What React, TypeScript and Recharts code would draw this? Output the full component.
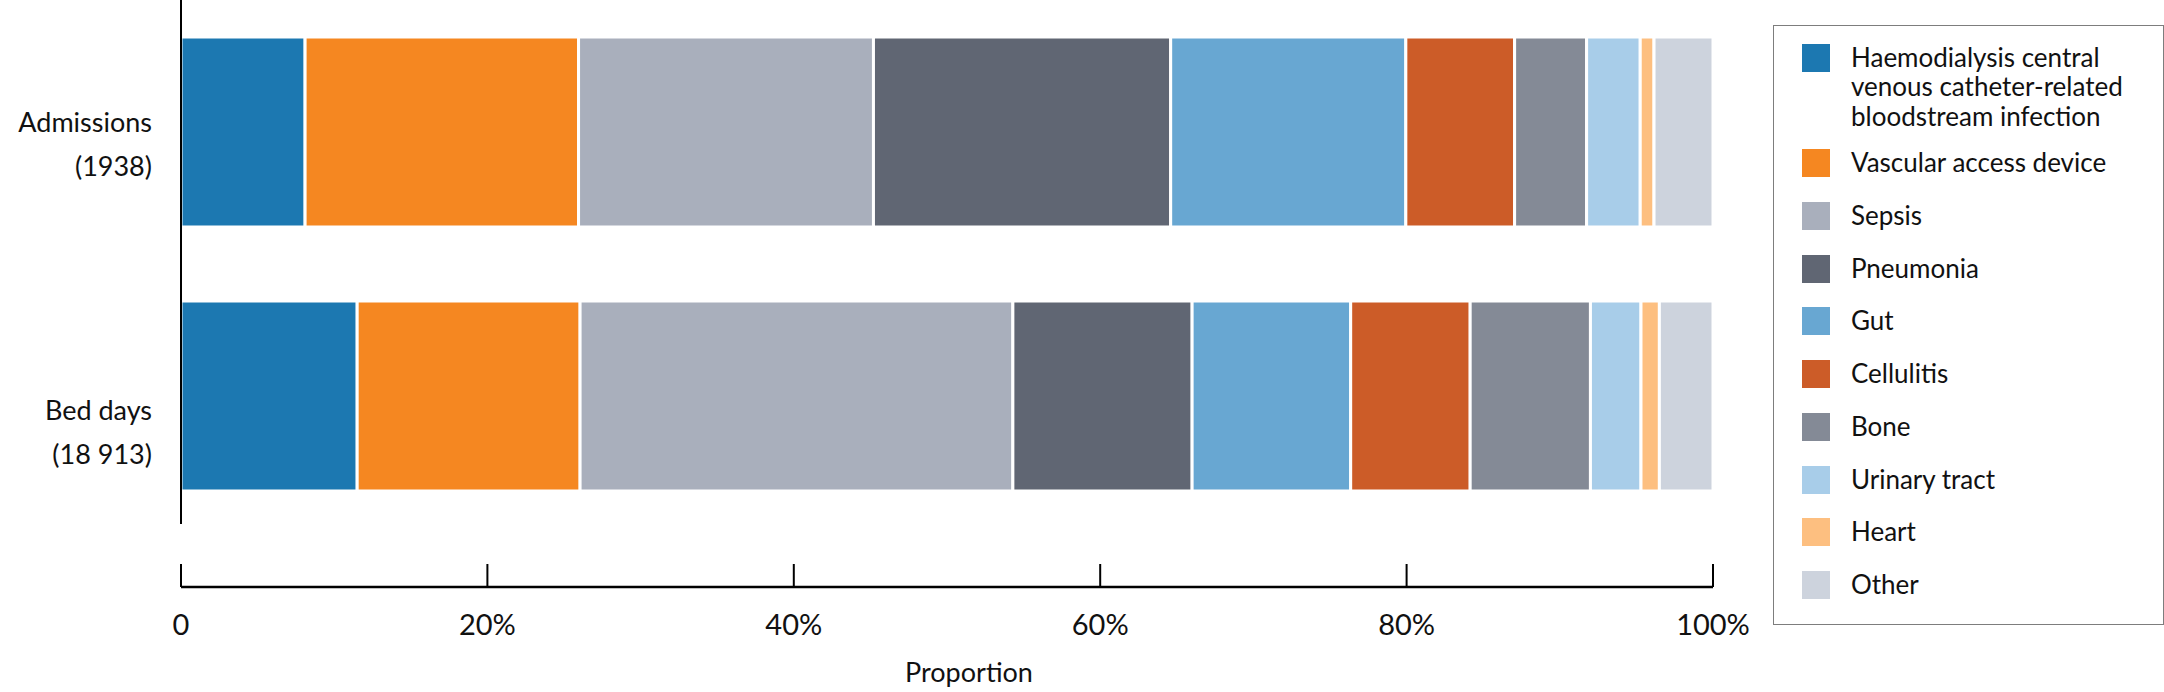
import React from "react";
import {
  BarChart,
  Bar,
  XAxis,
  YAxis,
  Legend,
  Label,
} from "recharts";

// rows on the y axis, with their totals shown under the name
const categories = ["Admissions", "Bed days"];
const totals = ["1938", "18 913"];

// causes of admission, in stacking order
const causes = [
  "Haemodialysis central venous catheter-related bloodstream infection",
  "Vascular access device",
  "Sepsis",
  "Pneumonia",
  "Gut",
  "Cellulitis",
  "Bone",
  "Urinary tract",
  "Heart",
  "Other",
];

const causeColors = [
  "#1c78b1",
  "#f58721",
  "#a9afbc",
  "#606673",
  "#68a7d2",
  "#cc5c28",
  "#848a96",
  "#a8cde9",
  "#fdbf80",
  "#cdd3dd",
];

// proportion (%) of each cause
const admissionsShare = [8.1, 17.85, 19.25, 19.4, 15.35, 7.1, 4.7, 3.5, 0.9, 3.85];
const bedDaysShare = [11.5, 14.55, 28.25, 11.7, 10.35, 7.8, 7.85, 3.3, 1.2, 3.5];

const xTicks = [0, 20, 40, 60, 80, 100];

const FONT = "Lato, 'Open Sans', sans-serif";

const shares = [admissionsShare, bedDaysShare];
const data = categories.map((name, i) => {
  const row: Record<string, any> = { name, total: totals[i] };
  causes.forEach((_, j) => {
    row[`c${j}`] = shares[i][j];
  });
  return row;
});

const wrap = (text: string, max = 23) => {
  const lines: string[] = [];
  let cur = "";
  text.split(" ").forEach((w) => {
    if (cur && (cur + " " + w).length > max) {
      lines.push(cur);
      cur = w;
    } else {
      cur = cur ? cur + " " + w : w;
    }
  });
  if (cur) lines.push(cur);
  return lines;
};

// the category labels sit a little off the bar centres in the original
const labelShift = [-10, 14];

const YTick = (props: any) => {
  const { x, y, payload, index } = props;
  return (
    <text x={x} y={y + labelShift[index]} textAnchor="end" fontSize={27} fontFamily={FONT} fill="#111">
      <tspan x={x} dy={10}>{payload.value}</tspan>
      <tspan x={x} dy={44}>({totals[index]})</tspan>
    </text>
  );
};

const XTick = (props: any) => {
  const { x, y, payload } = props;
  return (
    <g>
      <line x1={x} y1={y - 23} x2={x} y2={y} stroke="#000" strokeWidth={2} />
      <text x={x} y={y + 48} textAnchor="middle" fontSize={29} fontFamily={FONT} fill="#111">
        {payload.value === 0 ? "0" : `${payload.value}%`}
      </text>
    </g>
  );
};

const SLOT = 52.7;

const LegendBox = () => (
  <div
    style={{
      boxSizing: "border-box",
      width: 391,
      height: 600,
      border: "1px solid #7d7d7d",
      padding: "17px 0 0 28px",
      fontFamily: FONT,
      fontSize: 26,
      color: "#111",
      background: "#fff",
    }}
  >
    {causes.map((c, i) => {
      const lines = wrap(c);
      return (
        <div
          key={c}
          style={{
            display: "flex",
            alignItems: "flex-start",
            height: Math.max(1, lines.length - 1) * SLOT,
          }}
        >
          <div
            style={{
              width: 28,
              height: 28,
              marginTop: 1,
              marginRight: 21,
              background: causeColors[i],
              flex: "none",
            }}
          />
          <div style={{ lineHeight: "29.3px", whiteSpace: "nowrap" }}>
            {lines.map((l) => (
              <div key={l}>{l}</div>
            ))}
          </div>
        </div>
      );
    })}
  </div>
);

export default function App() {
  return (
    <div style={{ position: "absolute", left: 0, top: 0, background: "#fff" }}>
      <BarChart
        width={2164}
        height={692}
        data={data}
        layout="vertical"
        margin={{ top: 0, right: 60, bottom: 0, left: 0 }}
        barSize={190}
      >
        <XAxis
          type="number"
          domain={[0, 100]}
          ticks={xTicks}
          height={105}
          tickSize={0}
          tickMargin={0}
          tickLine={false}
          axisLine={{ stroke: "#000", strokeWidth: 2.5 }}
          tick={<XTick />}
          interval={0}
        >
          <Label
            content={(p: any) => (
              <text
                x={p.viewBox.x + p.viewBox.width / 2 + 22}
                y={p.viewBox.y + 95}
                textAnchor="middle"
                fontSize={27}
                fontFamily={FONT}
                fill="#111"
              >
                Proportion
              </text>
            )}
          />
        </XAxis>
        <YAxis
          type="category"
          dataKey="name"
          width={181}
          padding={{ top: 0, bottom: 59 }}
          tickSize={0}
          tickMargin={29}
          tickLine={false}
          axisLine={{ stroke: "#000", strokeWidth: 2, strokeDasharray: "524 2000" }}
          tick={<YTick />}
          interval={0}
        />
        <Legend
          layout="vertical"
          align="right"
          verticalAlign="top"
          content={<LegendBox />}
          wrapperStyle={{ left: 1773, top: 25, width: 391 }}
        />
        {causes.map((c, j) => (
          <Bar
            key={c}
            dataKey={`c${j}`}
            name={c}
            stackId="a"
            fill={causeColors[j]}
            stroke="#fff"
            strokeWidth={3}
            isAnimationActive={false}
          />
        ))}
      </BarChart>
    </div>
  );
}
